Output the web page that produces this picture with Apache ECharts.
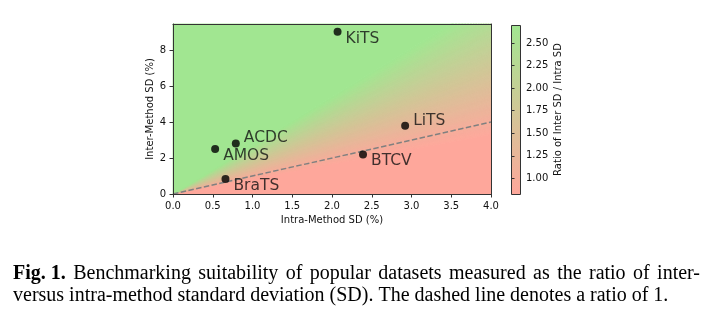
<!DOCTYPE html>
<html><head><meta charset="utf-8">
<script src="https://cdn.jsdelivr.net/npm/echarts@6/dist/echarts.min.js"></script>
<style>html,body{margin:0;padding:0;background:#fff}#c{width:714px;height:321px}</style>
</head><body><div id="c"></div>
<script>
// ---- data ----
const datasets = ['KiTS', 'LiTS', 'BTCV', 'ACDC', 'AMOS', 'BraTS'];
const intraSD = [2.07, 2.92, 2.39, 0.79, 0.53, 0.66];
const interSD = [9.02, 3.80, 2.20, 2.81, 2.50, 0.83];
const labelsAbove = ['LiTS', 'ACDC'];
const xTicks = [0, 0.5, 1, 1.5, 2, 2.5, 3, 3.5, 4];
const yTicks = [0, 2, 4, 6, 8];
const ratioTicks = [1.00, 1.25, 1.50, 1.75, 2.00, 2.25, 2.50];
const ratioRange = [0.826, 2.70];
const xRange = [0, 4];
const yRange = [0, 9.45];
const refLine = [[0, 0], [4, 4]];
const captionLead = 'Fig. 1.';
const captionLine1 = 'Benchmarking suitability of popular datasets measured as the ratio of inter-';
const captionLine2 = 'versus intra-method standard deviation (SD). The dashed line denotes a ratio of 1.';

// ---- style ----
const FONT = 'DejaVu Sans';
const SERIF = 'Liberation Serif';
const INK = '#111111';
const SPINE = '#333333';
const RED = [254, 167, 155];
const GREEN = [161, 230, 145];

function colorAt(r) {
  let t = (r - ratioRange[0]) / (ratioRange[1] - ratioRange[0]);
  t = Math.max(0, Math.min(1, t));
  const c = RED.map((v, i) => Math.round(v + (GREEN[i] - v) * t));
  return 'rgb(' + c.join(',') + ')';
}

function bgRender(params, api) {
  const x1 = xRange[1], y1 = yRange[1];
  const rc = y1 / x1;
  function bp(r) {
    if (r === Infinity) return [0, y1];
    if (r * x1 <= y1) return [x1, r * x1];
    return [y1 / r, y1];
  }
  function wedge(r1, r2) {
    const pts = [[0, 0], bp(r1)];
    if (r1 < rc && r2 > rc) pts.push([x1, y1]);
    pts.push(bp(r2));
    return pts.map(p => api.coord(p));
  }
  const children = [];
  const add = (r1, r2, col) => children.push({
    type: 'polygon', shape: { points: wedge(r1, r2) },
    style: { fill: col, stroke: col, lineWidth: 0.8 }
  });
  const N = 140;
  const [vmin, vmax] = ratioRange;
  add(0, vmin, colorAt(vmin));
  for (let i = 0; i < N; i++) {
    const a = vmin + (vmax - vmin) * i / N;
    const b = vmin + (vmax - vmin) * (i + 1) / N;
    add(a, b, colorAt((a + b) / 2));
  }
  add(vmax, Infinity, colorAt(vmax));
  return { type: 'group', children };
}

function cbarRender(params, api) {
  const p0 = api.coord([0, ratioRange[1]]);
  const p1 = api.coord([1, ratioRange[0]]);
  return {
    type: 'rect',
    shape: { x: Math.round(p0[0]) + 0.5, y: Math.round(p0[1]) + 0.5, width: Math.round(p1[0] - p0[0]), height: Math.round(p1[1] - p0[1]) },
    style: {
      fill: { type: 'linear', x: 0, y: 0, x2: 0, y2: 1, colorStops: [
        { offset: 0, color: colorAt(ratioRange[1]) },
        { offset: 0.5, color: colorAt((ratioRange[0] + ratioRange[1]) / 2) },
        { offset: 1, color: colorAt(ratioRange[0]) }] },
      stroke: SPINE, lineWidth: 1
    }
  };
}

// ---- caption layout (justified first line) ----
const cv = document.createElement('canvas').getContext('2d');
function tw(text, size, weight) { cv.font = (weight || 'normal') + ' ' + size + 'px "' + SERIF + '"'; return cv.measureText(text).width; }
const capLeft = 13, capRight = 700;
const w2 = tw(captionLine2, 18);
const capSize = Math.min(20, 18 * 668 / w2);
const graphics = [];
const words1 = captionLine1.split(' ');
const tokens = [{ t: captionLead, b: true }].concat(words1.map(w => ({ t: w, b: false })));
const widths = tokens.map(k => tw(k.t, capSize, k.b ? 'bold' : 'normal'));
const sumW = widths.reduce((a, b) => a + b, 0);
const gap = (capRight - capLeft - sumW) / (tokens.length - 1);
let cx = capLeft;
tokens.forEach((k, i) => {
  graphics.push({ type: 'text', x: cx, y: 274, style: { text: k.t, fontFamily: SERIF, fontSize: capSize, fontWeight: k.b ? 'bold' : 'normal', fill: '#000', align: 'left', verticalAlign: 'middle' } });
  cx += widths[i] + gap;
});
graphics.push({ type: 'text', x: capLeft, y: 296, style: { text: captionLine2, fontFamily: SERIF, fontSize: capSize, fill: '#000', align: 'left', verticalAlign: 'middle' } });

// ---- chart ----
const chart = echarts.init(document.getElementById('c'), null, { renderer: 'canvas' });
const axisText = { fontFamily: FONT, fontSize: 10, color: INK };
const spine = { show: true, onZero: false, lineStyle: { color: SPINE, width: 1 } };

chart.setOption({
  animation: false,
  backgroundColor: '#ffffff',
  textStyle: { fontFamily: FONT },
  grid: [
    { left: 173, top: 24, width: 318, height: 170, containLabel: false },
    { left: 511, top: 25, width: 9, height: 169, containLabel: false }
  ],
  xAxis: [
    { gridIndex: 0, type: 'value', position: 'bottom', min: xRange[0], max: xRange[1], interval: 0.5,
      name: 'Intra-Method SD (%)', nameLocation: 'middle', nameGap: 21, nameTextStyle: axisText,
      axisLine: spine, axisTick: { show: true, length: 3.5, customValues: xTicks, lineStyle: { color: SPINE } },
      axisLabel: Object.assign({ margin: 7, customValues: xTicks, formatter: v => v.toFixed(1) }, axisText),
      splitLine: { show: false }, z: 5 },
    { gridIndex: 0, type: 'value', position: 'top', min: xRange[0], max: xRange[1],
      axisLine: spine, axisTick: { show: false }, axisLabel: { show: false }, splitLine: { show: false }, z: 5 },
    { gridIndex: 1, type: 'value', min: 0, max: 1, show: false }
  ],
  yAxis: [
    { gridIndex: 0, type: 'value', position: 'left', min: yRange[0], max: yRange[1], interval: 2,
      name: 'Inter-Method SD (%)', nameLocation: 'middle', nameGap: 16, nameTextStyle: axisText,
      axisLine: spine, axisTick: { show: true, length: 3.5, customValues: yTicks, lineStyle: { color: SPINE } },
      axisLabel: Object.assign({ margin: 7, customValues: yTicks, formatter: v => String(v) }, axisText),
      splitLine: { show: false }, z: 5 },
    { gridIndex: 0, type: 'value', position: 'right', min: yRange[0], max: yRange[1],
      axisLine: spine, axisTick: { show: false }, axisLabel: { show: false }, splitLine: { show: false }, z: 5 },
    { gridIndex: 1, type: 'value', position: 'right', min: ratioRange[0], max: ratioRange[1],
      name: 'Ratio of Inter SD / Intra SD', nameLocation: 'middle', nameGap: 33, nameTextStyle: axisText,
      axisLine: { show: false }, axisTick: { show: true, length: 3.5, customValues: ratioTicks, lineStyle: { color: SPINE } },
      axisLabel: Object.assign({ margin: 6, customValues: ratioTicks, formatter: v => v.toFixed(2) }, axisText),
      splitLine: { show: false }, z: 5 }
  ],
  series: [
    { type: 'custom', xAxisIndex: 0, yAxisIndex: 0, z: 1, silent: true, clip: false,
      renderItem: bgRender, data: [[0, 0]] },
    { type: 'line', xAxisIndex: 0, yAxisIndex: 0, z: 2, silent: true, symbol: 'none',
      lineStyle: { color: '#808080', width: 1.5, type: [5.5, 2.4] }, data: refLine },
    { type: 'scatter', xAxisIndex: 0, yAxisIndex: 0, z: 3, symbol: 'circle', symbolSize: 8,
      itemStyle: { color: '#000' },
      label: { show: true, position: 'right', distance: 0, fontFamily: FONT, fontSize: 15.5, color: INK, formatter: p => p.name },
      data: datasets.map((n, i) => ({
        name: n, value: [intraSD[i], interSD[i]],
        label: { offset: labelsAbove.includes(n) ? [4, -5] : [4, 7] }
      })) },
    { type: 'custom', xAxisIndex: 2, yAxisIndex: 2, z: 1, silent: true, clip: false,
      renderItem: cbarRender, data: [[0, 0]] }
  ],
  graphic: graphics
});
</script>
</body></html>
